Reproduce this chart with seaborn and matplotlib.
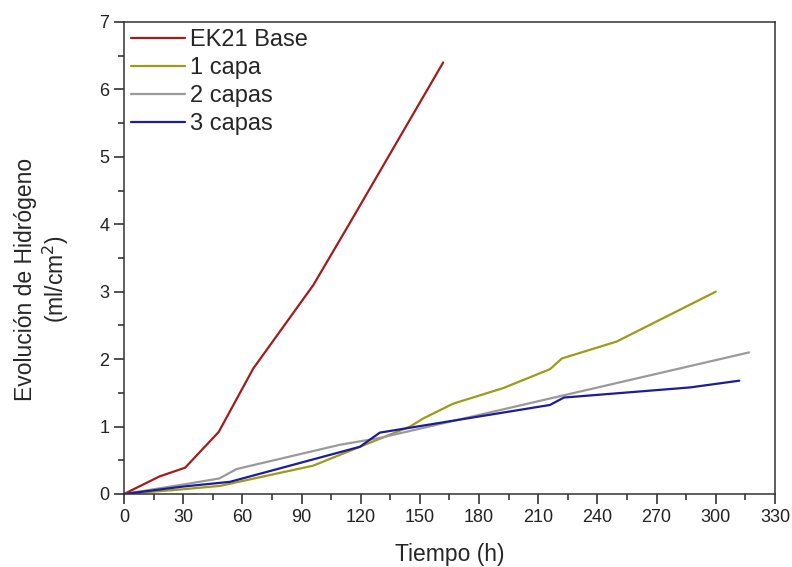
import numpy as np
import pandas as pd
import matplotlib
matplotlib.use("Agg")
import matplotlib.pyplot as plt
from matplotlib.ticker import MultipleLocator
import seaborn as sns

# data
t_base = [0, 18, 31, 48, 65.5, 96, 113.5, 161.8]
v_base = [0, 0.26, 0.39, 0.92, 1.86, 3.1, 3.97, 6.40]

t_1capa = [0, 30, 48.7, 95.9, 119.6, 145, 151.7, 166.9, 192.2, 215.9, 222, 249.7, 300]
v_1capa = [0, 0.07, 0.12, 0.42, 0.70, 1.0, 1.12, 1.34, 1.57, 1.85, 2.01, 2.26, 3.0]

t_2capas = [0, 30, 48.3, 57.1, 109.5, 129.5, 316.9]
v_2capas = [0, 0.14, 0.23, 0.37, 0.73, 0.83, 2.10]

t_3capas = [0, 30, 53.7, 119.6, 129.7, 215.9, 223, 286.9, 311.9]
v_3capas = [0, 0.11, 0.18, 0.70, 0.91, 1.32, 1.43, 1.58, 1.68]

series = ["EK21 Base", "1 capa", "2 capas", "3 capas"]
colors = ["#a31c1c", "#9c9c18", "#9a9a9a", "#1c1c9c"]

sns.set_style("ticks")
plt.rcParams['font.family'] = ['Liberation Sans', 'DejaVu Sans']

fig = plt.figure(figsize=(7.92, 5.67), dpi=100)
ax = fig.add_axes([0.1566, 0.1288, 0.8219, 0.8324])

data = [(t_base, v_base), (t_1capa, v_1capa), (t_2capas, v_2capas), (t_3capas, v_3capas)]
for name, col, (t, v) in zip(series, colors, data):
    df = pd.DataFrame({"t": t, "v": v})
    sns.lineplot(data=df, x="t", y="v", ax=ax, color=col, lw=1.6, label=name,
                 sort=False, estimator=None)

ax.set_xlim(0, 330)
ax.set_ylim(0, 7)
ax.xaxis.set_major_locator(MultipleLocator(30))
ax.xaxis.set_minor_locator(MultipleLocator(15))
ax.yaxis.set_major_locator(MultipleLocator(1))
ax.yaxis.set_minor_locator(MultipleLocator(0.5))
ax.tick_params(which='major', direction='out', length=7, width=1.1, labelsize=13,
               colors='#222222', top=False, right=False)
ax.tick_params(which='minor', direction='out', length=4, width=1.1, top=False, right=False)
for s in ax.spines.values():
    s.set_linewidth(1.1)
    s.set_color('#333333')

ax.set_xlabel("Tiempo (h)", fontsize=16.5, labelpad=12.5)
ax.set_ylabel("Evolución de Hidrógeno\n(ml/cm$^2$)", fontsize=16.5, linespacing=1.15)
ax.yaxis.set_label_coords(-0.082, 0.455)

leg = ax.legend(loc='upper left', frameon=False, fontsize=17, handlelength=2.3,
                handletextpad=0.2, labelspacing=0.25, borderaxespad=0.1,
                borderpad=0.2, bbox_to_anchor=(0.0, 1.0))

fig.savefig("out.png", dpi=100)
